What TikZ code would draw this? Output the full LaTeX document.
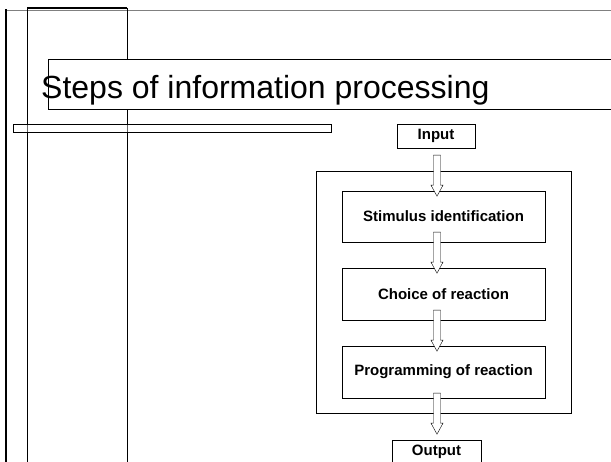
\documentclass[tikz,border=0pt]{standalone}
\usepackage{fontspec}
\setmainfont{Liberation Sans}
\usetikzlibrary{positioning}
\tikzset{box/.style={draw, thin, inner sep=0pt, font=\fontsize{15}{18}\selectfont\bfseries},
         blockarr/.style={draw=black, thin, fill=white}}

\begin{document}
\begin{tikzpicture}[x=1pt,y=-1pt]
  \useasboundingbox (0,0) rectangle (611,462);
  % slide frame
  \draw[gray, line width=1.5pt] (6,10.5) -- (611,10.5);
  \draw[line width=2pt] (27,8.5) -- (127,8.5);
  \draw[line width=2.5pt] (6,9.5) -- (6,462);
  \draw[thin] (27,8) -- (27,462);
  \draw[thin] (127,8) -- (127,462);
  % title
  \fill[white] (48,59) rectangle (620,109);
  \draw[thin] (620,59) -- (48,59) -- (48,109) -- (620,109);
  \node[anchor=base west, inner sep=0pt, font=\fontsize{32}{38}\selectfont] (title) at (41,99) {Steps of information processing};
  \draw[thin, fill=white, fill opacity=0.4] (13,124) rectangle (331,132);
  % flow
  \draw[thin] (316,171) rectangle (571,413);
  \node[box, minimum width=78pt, minimum height=24pt] (in) at (436,136) {Input};
  \node[box, minimum width=203pt, minimum height=51pt] (stim) at (443.5,216.5) {Stimulus identification};
  \node[box, minimum width=203pt, minimum height=52pt] (choice) at (443.5,294) {Choice of reaction};
  \node[box, minimum width=203pt, minimum height=52pt] (prog) at (443.5,372) {Programming of reaction};
  \node[box, minimum width=89pt, minimum height=24pt] (out) at (436.5,452) {Output};
  \foreach \a/\s in {in/7, stim/-10, choice/-10, prog/-5}
    \draw[blockarr] (433.5,0 |- \a.south) ++(0,\s) -- ++(7,0) -- ++(0,30) -- ++(2.5,0)
      -- ++(-6,11) -- ++(-6,-11) -- ++(2.5,0) -- cycle;
\end{tikzpicture}
\end{document}
